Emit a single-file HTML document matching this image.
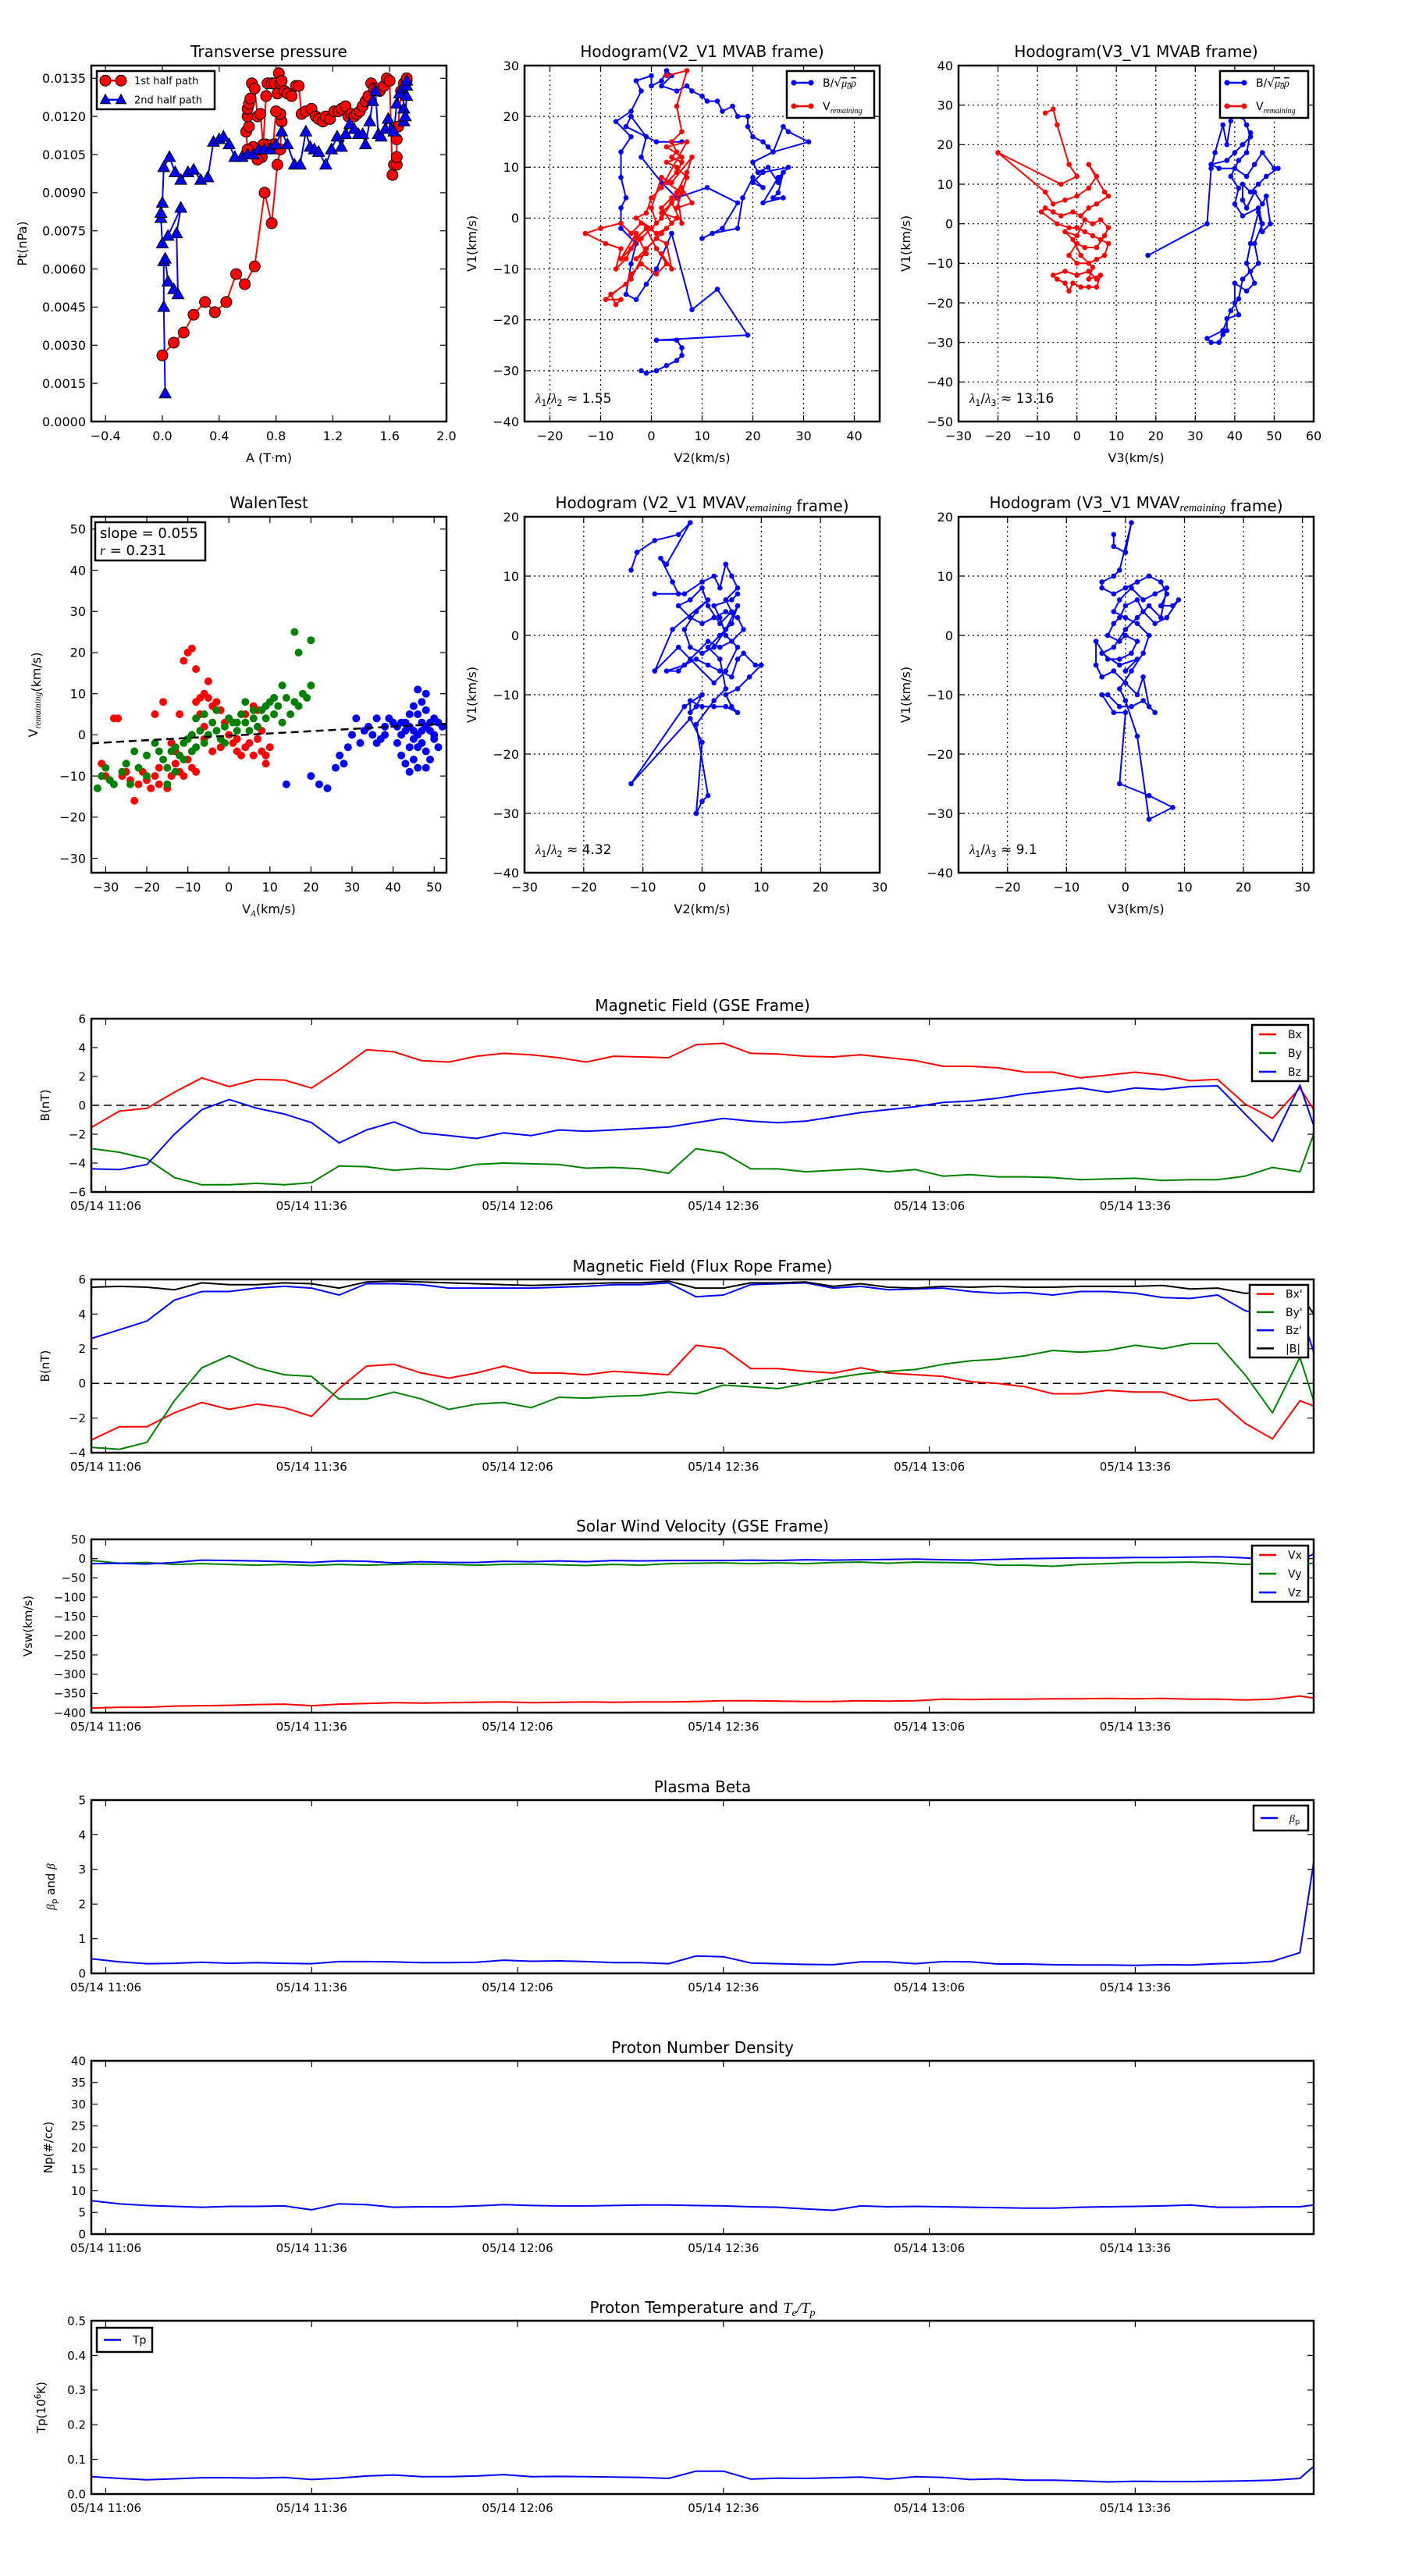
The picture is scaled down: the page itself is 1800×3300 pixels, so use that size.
<!DOCTYPE html>
<html><head><meta charset="utf-8"><title>Flux rope analysis</title>
<style>html,body{margin:0;padding:0;background:#fff}svg{display:block}text{font-family:"DejaVu Sans","Liberation Sans",sans-serif}</style>
</head><body>
<svg id="fig" xmlns="http://www.w3.org/2000/svg" width="1800" height="3300" viewBox="0 0 1800 3300"></svg>
<script>
// ---------- Transverse pressure ----------
const ptRedA=[0.0,0.08,0.15,0.22,0.3,0.37,0.45,0.52,0.58,0.65,0.72,0.77,0.81,0.83,0.84,0.83,0.80,0.78,0.73,0.70,0.67,0.64,0.60,0.59,0.61,0.60,0.60,0.61,0.62,0.63,0.65,0.67,0.69,0.71,0.73,0.74,0.77,0.79,0.81,0.82,0.83,0.84,0.86,0.88,0.91,0.94,0.96,0.98,1.01,1.05,1.08,1.10,1.13,1.15,1.18,1.21,1.24,1.26,1.29,1.31,1.33,1.35,1.37,1.39,1.41,1.43,1.45,1.47,1.49,1.51,1.53,1.56,1.58,1.60,1.62,1.63,1.65,1.65,1.65,1.66,1.68,1.70,1.72,1.72];
const ptRedP=[0.0026,0.0031,0.0035,0.0042,0.0047,0.0043,0.0047,0.0058,0.0054,0.0061,0.0090,0.0078,0.0101,0.0107,0.0118,0.0121,0.0122,0.0109,0.0109,0.0104,0.0103,0.0108,0.0107,0.0114,0.0116,0.0120,0.0123,0.0125,0.0127,0.0133,0.0131,0.0120,0.0121,0.0109,0.0128,0.0133,0.0133,0.0133,0.0129,0.0137,0.0133,0.0134,0.0130,0.0129,0.0128,0.0132,0.0132,0.0121,0.0122,0.0123,0.0120,0.0119,0.0118,0.0120,0.0119,0.0122,0.0122,0.0123,0.0124,0.0120,0.0121,0.0120,0.0121,0.0122,0.0124,0.0126,0.0128,0.0133,0.0131,0.0131,0.0130,0.0132,0.0135,0.0134,0.0097,0.0101,0.0101,0.0104,0.0111,0.0116,0.0130,0.0133,0.0134,0.0135];
const ptBlueA=[0.02,0.01,0.01,0.02,0.04,0.08,0.11,0.10,0.13,0.04,0.0,-0.01,-0.01,0.0,0.01,0.05,0.09,0.13,0.18,0.22,0.27,0.32,0.36,0.40,0.43,0.47,0.51,0.56,0.60,0.64,0.68,0.72,0.76,0.80,0.84,0.88,0.93,0.97,1.01,1.04,1.07,1.10,1.15,1.19,1.23,1.26,1.29,1.32,1.35,1.38,1.41,1.43,1.46,1.48,1.50,1.52,1.54,1.57,1.59,1.61,1.63,1.65,1.67,1.69,1.70,1.70,1.71,1.72,1.72,1.72];
const ptBlueP=[0.0011,0.0045,0.0063,0.0064,0.0055,0.0052,0.0050,0.0074,0.0084,0.0073,0.0070,0.0080,0.0082,0.0086,0.0100,0.0104,0.0098,0.0095,0.0098,0.0099,0.0095,0.0096,0.0110,0.0111,0.0112,0.0109,0.0104,0.0104,0.0105,0.0105,0.0107,0.0107,0.0107,0.0109,0.0114,0.0109,0.0101,0.0101,0.0114,0.0108,0.0107,0.0106,0.0101,0.0107,0.0112,0.0108,0.0113,0.0117,0.0115,0.0113,0.0113,0.0109,0.0118,0.0126,0.0130,0.0113,0.0112,0.0115,0.0119,0.0115,0.0114,0.0125,0.0129,0.0131,0.0123,0.0118,0.0120,0.0128,0.0132,0.0134];
const ptXTicks=[-0.4,0.0,0.4,0.8,1.2,1.6,2.0];
const ptXTickLabels=["−0.4","0.0","0.4","0.8","1.2","1.6","2.0"];
const ptYTicks=[0,0.0015,0.003,0.0045,0.006,0.0075,0.009,0.0105,0.012,0.0135];
const ptYTickLabels=["0.0000","0.0015","0.0030","0.0045","0.0060","0.0075","0.0090","0.0105","0.0120","0.0135"];

// ---------- Hodogram V2_V1 MVAB ----------
const h1Blue=[[-2,-30],[-1,-30.5],[1,-30],[3,-29],[5,-28],[6,-27],[6,-25.5],[5,-24],[1,-24],[19,-23],[13,-14],[8,-18],[4,-3],[1,-10],[-1,-13],[-3,-16],[-5,-15],[-4,-9],[-3,-5],[-6,-2],[-6,2],[-5,4],[-6,8],[-6,13],[-4,16],[-7,19],[-4,21],[-2,25],[-3,27],[0,28],[0,26],[2,27],[3,29],[4,28],[2,26],[5,25],[7,26],[8,25],[10,24],[11,23],[13,23],[14,21],[16,22],[17,20],[19,20],[19,18],[20,16],[22,15],[23,14],[24,13],[26,18],[27,17],[31,15],[24,13],[20,11],[21,9],[23,10],[25,7],[26,9],[25,5],[24,4],[26,4],[22,3],[25,8],[27,10],[22,9],[20,7],[22,6],[20,8],[18,4],[17,-2],[12,-3],[10,-4],[14,-2],[17,3],[11,6],[5,4],[2,7],[-2,12],[-1,16],[-4,20],[-5,18],[1,15],[4,15],[6,15]];
const h1Red=[[3,28],[7,29],[5,22],[6,17],[4,15],[5,13],[4,12],[6,11],[5,9],[3,7],[6,5],[4,3],[2,1],[5,0],[3,-2],[1,-3],[-2,-1],[-4,-3],[-6,-1],[-10,-2],[-13,-3],[-9,-5],[-6,-6],[-7,-10],[-5,-8],[-3,-4],[-1,-2],[1,-6],[3,-9],[1,-11],[-2,-9],[-4,-11],[-5,-13],[-8,-15],[-7,-17],[-6,-16],[-9,-16],[-4,-12],[-1,-6],[2,-3],[4,-1],[2,2],[4,4],[6,6],[8,3],[5,2],[7,8],[5,10],[3,11],[6,12],[3,14],[7,15],[2,6],[0,4],[-1,1],[-3,0],[0,-2],[2,0],[4,3],[6,-1],[5,5],[7,9],[8,12],[4,7],[2,8],[0,2],[1,-1],[-2,-4],[-4,-6],[-6,-8],[-3,-3],[-1,-7],[-3,-8],[1,-4],[3,-5],[4,-10],[2,-7]];
const h1XTicks=[-20,-10,0,10,20,30,40];
const h1YTicks=[-40,-30,-20,-10,0,10,20,30];

// ---------- Hodogram V3_V1 MVAB ----------
const h2Blue=[[18,-8],[33,0],[34,14],[35,18],[37,25],[38,20],[39,26],[40,28],[42,27],[43,25],[44,22],[42,20],[40,18],[38,16],[34,15],[36,14],[40,14],[43,12],[45,15],[47,18],[50,14],[51,14],[48,12],[46,10],[44,8],[42,10],[42,6],[43,4],[45,8],[47,5],[48,7],[49,0],[47,-2],[46,3],[44,-5],[43,-10],[45,-15],[43,-17],[40,-15],[40,-20],[41,-23],[38,-24],[38,-27],[37,-28],[36,-30],[34,-30],[33,-29],[37,-27],[39,-22],[41,-19],[42,-14],[44,-12],[46,-10],[45,-5],[47,0],[46,4],[42,2],[40,5],[41,9],[39,12],[41,16],[43,18],[44,23]];
const h2Red=[[-8,28],[-6,29],[-5,25],[-2,15],[0,12],[-4,10],[-20,18],[-8,8],[-6,5],[-3,6],[0,7],[3,9],[5,12],[3,15],[7,8],[8,7],[5,5],[3,4],[1,2],[-1,3],[-4,2],[-6,3],[-8,4],[-9,3],[-5,0],[-2,-1],[0,-1],[2,-2],[4,-3],[6,-4],[8,-5],[7,-8],[5,-9],[3,-10],[0,-10],[-2,-8],[0,-5],[2,-6],[5,-6],[7,-3],[8,-1],[6,1],[4,0],[2,1],[0,-3],[-3,-2],[-1,-4],[1,-8],[4,-11],[3,-14],[6,-13],[5,-16],[3,-16],[1,-16],[-1,-15],[-2,-17],[-3,-15],[-5,-14],[-6,-13],[-3,-12],[0,-13],[3,-12],[5,-14]];
const h2XTicks=[-30,-20,-10,0,10,20,30,40,50,60];
const h2YTicks=[-50,-40,-30,-20,-10,0,10,20,30,40];

// ---------- Walen test ----------
const wRed=[[-31,-7],[-30,-10],[-28,4],[-27,4],[-26,-10],[-24,-11],[-23,-16],[-22,-12],[-20,-11],[-19,-13],[-18,-10],[-17,-12],[-15,-13],[-14,-10],[-13,-7],[-12,-9],[-11,-10],[-10,-6],[-9,-8],[-8,-9],[-12,5],[-11,18],[-10,20],[-9,21],[-8,16],[-8,8],[-7,9],[-6,10],[-5,9],[-4,7],[-7,5],[-6,2],[-3,8],[-2,6],[-1,3],[0,0],[1,-2],[2,-4],[3,-5],[4,-3],[5,-2],[6,-5],[7,-1],[8,-4],[9,-5],[10,-3],[4,5],[6,7],[7,6],[-5,13],[-16,8],[-18,5],[-14,-2],[-6,-1],[-4,-4],[2,-1],[8,1],[-25,-9],[-21,-9],[-2,-3],[9,-7],[-17,-8],[-13,-4]];
const wGreen=[[-32,-13],[-31,-10],[-30,-8],[-29,-11],[-28,-12],[-26,-9],[-25,-7],[-22,-8],[-20,-5],[-17,-4],[-16,-6],[-15,-8],[-14,-4],[-13,-3],[-12,-5],[-11,-2],[-10,-1],[-9,0],[-8,-3],[-7,1],[-6,-2],[-5,0],[-4,3],[-3,1],[-2,-1],[-1,2],[0,4],[1,3],[2,1],[3,5],[4,3],[5,1],[6,4],[7,2],[8,6],[9,4],[10,8],[11,5],[12,7],[13,3],[14,9],[15,5],[16,8],[17,7],[18,10],[19,9],[20,12],[16,25],[17,20],[20,23],[13,12],[11,9],[9,7],[-3,6],[-6,5],[-9,-4],[-11,-6],[-13,-9],[-15,-12],[-18,-2],[-20,-10],[-24,-12],[-23,-4],[-1,-2],[4,8],[6,6],[2,3],[-8,4]];
const wBlue=[[14,-12],[20,-10],[22,-12],[24,-13],[26,-8],[27,-5],[28,-7],[29,-3],[30,0],[31,4],[32,-2],[33,1],[34,2],[35,0],[36,4],[37,-1],[38,2],[39,4],[40,3],[41,-2],[42,0],[43,3],[44,-3],[45,1],[46,5],[47,-2],[48,6],[49,1],[50,-1],[51,3],[52,2],[42,-5],[43,-7],[44,-9],[45,-6],[46,-3],[47,8],[48,10],[46,11],[45,7],[47,3],[48,-4],[49,-6],[50,4],[51,-3],[44,5],[43,1],[45,-1],[46,0],[47,1],[48,2],[49,3],[50,0],[46,-8],[48,-8],[44,2],[42,3],[41,2],[38,0],[36,-2]];
const wSlope=0.055;
const wIntercept=-0.2;
const wXTicks=[-30,-20,-10,0,10,20,30,40,50];
const wYTicks=[-30,-20,-10,0,10,20,30,40,50];

// ---------- Hodogram MVAV ----------
const h3Blue=[[-12,11],[-11,14],[-8,16],[-4,17],[-2,19],[-6,12],[-7,13],[-5,9],[-4,7],[-8,7],[-3,7],[0,9],[2,10],[3,8],[4,12],[5,10],[6,8],[4,6],[5,4],[3,2],[1,5],[0,8],[-2,6],[-4,5],[-2,3],[0,2],[2,3],[4,4],[6,3],[7,1],[5,-1],[3,-2],[1,-1],[-2,-4],[-4,-6],[-6,-6],[-3,-5],[-1,-4],[1,-5],[3,-6],[5,-7],[6,-4],[7,-3],[9,-5],[10,-5],[8,-7],[6,-9],[4,-10],[5,-12],[6,-13],[4,-12],[2,-12],[0,-12],[-2,-11],[-2,-13],[-1,-12],[0,-10],[-3,-12],[-12,-25],[-2,-14],[0,-18],[-1,-30],[0,-28],[1,-27],[-1,-15],[2,-11],[4,-9],[3,-4],[1,-2],[3,0],[5,2],[6,5],[4,1],[2,-2],[0,-3],[-2,-2],[-3,1],[-1,4],[1,6],[-5,1],[-8,-6],[-4,-2],[2,-8],[4,-6],[6,-2],[4,0],[3,3],[2,5],[5,6],[6,7]];
const h3XTicks=[-30,-20,-10,0,10,20,30];
const h3YTicks=[-40,-30,-20,-10,0,10,20];
const h4Blue=[[-2,17],[-2,15],[0,14],[1,19],[-1,11],[-2,10],[-4,9],[-4,8],[-2,7],[0,8],[2,9],[4,10],[6,9],[7,7],[6,5],[8,5],[9,6],[7,3],[5,2],[3,4],[2,6],[0,5],[-1,3],[-2,2],[-3,0],[-1,-1],[0,0],[2,-1],[1,-3],[-1,-4],[-3,-4],[-5,-1],[-5,-5],[-4,-7],[-2,-6],[0,-8],[2,-10],[3,-7],[4,-12],[5,-13],[3,-11],[1,-12],[-1,-12],[-3,-10],[-4,-10],[-2,-13],[0,-13],[-1,-25],[4,-27],[8,-29],[4,-31],[2,-17],[0,-11],[-1,-9],[1,-6],[3,-3],[4,0],[2,2],[0,3],[-2,4],[-1,6],[1,8],[3,6],[5,7],[7,8],[6,3],[4,5],[2,3],[0,1],[-2,-2],[-4,-3],[-1,-5],[2,-4],[0,-6]];
const h4XTicks=[-20,-10,0,10,20,30];
const h4YTicks=[-40,-30,-20,-10,0,10,20];

// ---------- Time series (minutes after 11:06) ----------
const tMin=[-2,2,6,10,14,18,22,26,30,34,38,42,46,50,54,58,62,66,70,74,78,82,86,90,94,98,102,106,110,114,118,122,126,130,134,138,142,146,150,154,158,162,166,170,174,176];
const timeTicks=[0,30,60,90,120,150];
const timeTickLabels=["05/14 11:06","05/14 11:36","05/14 12:06","05/14 12:36","05/14 13:06","05/14 13:36"];
const bx=[-1.5,-0.4,-0.2,0.9,1.9,1.3,1.8,1.75,1.2,2.45,3.85,3.7,3.1,3.0,3.4,3.6,3.5,3.3,3.0,3.4,3.35,3.3,4.2,4.3,3.6,3.55,3.4,3.35,3.5,3.3,3.1,2.7,2.7,2.6,2.3,2.3,1.9,2.1,2.3,2.1,1.7,1.8,0.1,-0.9,1.2,-0.3];
const by=[-3.0,-3.25,-3.7,-5.0,-5.5,-5.5,-5.4,-5.5,-5.35,-4.2,-4.25,-4.5,-4.35,-4.45,-4.1,-4.0,-4.05,-4.1,-4.35,-4.3,-4.4,-4.7,-3.0,-3.3,-4.4,-4.4,-4.6,-4.5,-4.4,-4.6,-4.45,-4.9,-4.8,-4.95,-4.95,-5.0,-5.15,-5.1,-5.05,-5.2,-5.15,-5.15,-4.9,-4.3,-4.6,-2.0];
const bz=[-4.4,-4.45,-4.1,-2.0,-0.3,0.4,-0.2,-0.6,-1.2,-2.6,-1.7,-1.15,-1.9,-2.1,-2.3,-1.9,-2.1,-1.7,-1.8,-1.7,-1.6,-1.5,-1.2,-0.9,-1.1,-1.2,-1.1,-0.8,-0.5,-0.3,-0.1,0.2,0.3,0.5,0.8,1.0,1.2,0.9,1.2,1.1,1.3,1.35,-0.6,-2.5,1.4,-1.4];
const bxp=[-3.25,-2.5,-2.5,-1.7,-1.1,-1.5,-1.2,-1.4,-1.9,-0.3,1.0,1.1,0.6,0.3,0.6,1.0,0.6,0.6,0.5,0.7,0.6,0.5,2.2,2.0,0.85,0.85,0.7,0.6,0.9,0.6,0.5,0.4,0.1,0.0,-0.2,-0.6,-0.6,-0.4,-0.5,-0.5,-1.0,-0.9,-2.3,-3.2,-1.0,-1.3];
const byp=[-3.7,-3.8,-3.4,-1.0,0.9,1.6,0.9,0.5,0.4,-0.9,-0.9,-0.5,-0.9,-1.5,-1.2,-1.1,-1.4,-0.8,-0.85,-0.75,-0.7,-0.5,-0.6,-0.1,-0.2,-0.3,0.0,0.3,0.55,0.7,0.8,1.1,1.3,1.4,1.6,1.9,1.8,1.9,2.2,2.0,2.3,2.3,0.5,-1.7,1.5,-1.0];
const bzp=[2.6,3.1,3.6,4.8,5.3,5.3,5.5,5.6,5.5,5.1,5.75,5.75,5.7,5.5,5.5,5.5,5.5,5.55,5.6,5.7,5.7,5.8,5.0,5.1,5.7,5.75,5.8,5.5,5.6,5.4,5.45,5.5,5.3,5.2,5.25,5.1,5.3,5.3,5.2,4.95,4.9,5.1,4.2,3.8,4.3,1.8];
const bmag=[5.55,5.6,5.55,5.4,5.8,5.7,5.7,5.8,5.75,5.5,5.85,5.9,5.85,5.8,5.75,5.7,5.65,5.7,5.75,5.8,5.8,5.9,5.5,5.5,5.8,5.8,5.85,5.6,5.75,5.55,5.5,5.6,5.55,5.6,5.55,5.55,5.6,5.6,5.6,5.65,5.45,5.5,5.2,5.25,5.2,4.0];
const vx=[-388,-386,-386,-383,-382,-381,-379,-378,-382,-378,-376,-374,-375,-374,-373,-372,-374,-373,-372,-373,-372,-372,-371,-369,-369,-370,-371,-371,-369,-370,-369,-365,-366,-365,-365,-364,-364,-363,-364,-363,-365,-365,-367,-365,-357,-362];
const vy=[-5,-12,-10,-15,-13,-15,-17,-15,-18,-15,-17,-15,-14,-15,-17,-15,-14,-16,-18,-15,-17,-13,-12,-11,-13,-11,-13,-10,-9,-12,-9,-10,-11,-17,-17,-20,-15,-13,-10,-10,-9,-11,-15,-13,-14,-12];
const vz=[-13,-12,-14,-10,-4,-5,-6,-8,-10,-6,-7,-11,-8,-10,-10,-7,-8,-6,-8,-5,-6,-5,-5,-5,-4,-5,-3,-4,-3,-2,-1,-3,-4,-2,0,1,2,2,3,3,4,5,2,-3,-5,12];
const betaP=[0.42,0.33,0.28,0.29,0.32,0.29,0.31,0.29,0.28,0.34,0.34,0.33,0.31,0.31,0.32,0.38,0.35,0.36,0.34,0.31,0.31,0.28,0.5,0.48,0.3,0.28,0.26,0.25,0.33,0.33,0.28,0.34,0.33,0.27,0.27,0.25,0.24,0.24,0.23,0.25,0.24,0.28,0.3,0.35,0.6,3.2];
const np=[7.7,7.0,6.6,6.4,6.2,6.4,6.4,6.5,5.6,7.0,6.8,6.2,6.3,6.3,6.5,6.8,6.6,6.5,6.5,6.6,6.7,6.7,6.6,6.5,6.3,6.2,5.8,5.5,6.5,6.3,6.4,6.3,6.2,6.1,6.0,6.0,6.2,6.3,6.4,6.5,6.7,6.2,6.2,6.3,6.3,6.7];
const tp=[0.05,0.045,0.041,0.044,0.047,0.047,0.046,0.048,0.042,0.046,0.052,0.055,0.05,0.05,0.052,0.056,0.05,0.051,0.05,0.049,0.048,0.045,0.066,0.066,0.043,0.046,0.045,0.047,0.049,0.043,0.05,0.048,0.042,0.044,0.04,0.04,0.038,0.035,0.037,0.036,0.036,0.037,0.038,0.04,0.045,0.08];

const NS='http://www.w3.org/2000/svg';
const fig=document.getElementById('fig');
function mk(tag,attrs,parent){const e=document.createElementNS(NS,tag);for(const k in attrs)e.setAttribute(k,attrs[k]);(parent||fig).appendChild(e);return e;}
function txt(s,attrs,name,parent){const e=mk('text',attrs,parent);e.textContent=s;


return e;}

function makeAxes(o){
  const g=mk('g',{});
  
  
  const sx=v=>o.x+(v-o.xmin)/(o.xmax-o.xmin)*o.w;
  const sy=v=>o.y+o.h-(v-o.ymin)/(o.ymax-o.ymin)*o.h;
  const fs=o.tickFont||16;
  o.xticks.forEach((v,i)=>{const X=sx(v);
    if(o.grid){const gl=mk('line',{x1:X,x2:X,y1:o.y,y2:o.y+o.h,stroke:'#000','stroke-width':1.2,'stroke-dasharray':'2,4'},g);
      
      }
    mk('line',{x1:X,x2:X,y1:o.y+o.h,y2:o.y+o.h-8,stroke:'#000','stroke-width':1.2},g);
    mk('line',{x1:X,x2:X,y1:o.y,y2:o.y+8,stroke:'#000','stroke-width':1.2},g);
    txt(o.xlabels?o.xlabels[i]:String(v).replace('-','−'),{x:X,y:o.y+o.h+(o.xlabOff||24),'text-anchor':'middle','font-size':fs},'x-tick-label',g);
  });
  o.yticks.forEach((v,i)=>{const Y=sy(v);
    if(o.grid){const gl=mk('line',{x1:o.x,x2:o.x+o.w,y1:Y,y2:Y,stroke:'#000','stroke-width':1.2,'stroke-dasharray':'2,4'},g);
      
      }
    mk('line',{x1:o.x,x2:o.x+8,y1:Y,y2:Y,stroke:'#000','stroke-width':1.2},g);
    mk('line',{x1:o.x+o.w,x2:o.x+o.w-8,y1:Y,y2:Y,stroke:'#000','stroke-width':1.2},g);
    txt(o.ylabels?o.ylabels[i]:String(v).replace('-','−'),{x:o.x-7,y:Y+fs*0.36,'text-anchor':'end','font-size':fs},'y-tick-label',g);
  });
  if(o.zero){const z=mk('line',{x1:o.x,x2:o.x+o.w,y1:sy(0),y2:sy(0),stroke:'#000','stroke-width':1.5,'stroke-dasharray':'10,6'},g);
    
    }
  const clipId='c'+Math.round(o.x)+'_'+Math.round(o.y);
  const cp=mk('clipPath',{id:clipId},g);mk('rect',{x:o.x,y:o.y,width:o.w,height:o.h},cp);
  const plot=mk('g',{'clip-path':'url(#'+clipId+')'},g);
  
  
  const fr=mk('rect',{x:o.x,y:o.y,width:o.w,height:o.h,fill:'none',stroke:'#000','stroke-width':2.5},g);
  
  
  if(o.title){const t=txt('',{x:o.x+o.w/2,y:o.y-(o.titleOff||11),'text-anchor':'middle','font-size':o.titleFont||20},'chart-title',g);
    t.innerHTML=o.title;}
  if(o.xtitle){const t=txt('',{x:o.x+o.w/2,y:o.y+o.h+(o.xtOff||52),'text-anchor':'middle','font-size':16},'x-axis-title',g);t.innerHTML=o.xtitle;}
  if(o.ytitle){const t=txt('',{x:o.ytx,y:o.y+o.h/2,'text-anchor':'middle','font-size':o.ytFont||16,transform:'rotate(-90 '+o.ytx+' '+(o.y+o.h/2)+')'},'y-axis-title',g);t.innerHTML=o.ytitle;}
  return {sx,sy,plot,g,o};
}
function line(ax,xs,ys,color,name,w){
  const d=xs.map((v,i)=>(i?'L':'M')+ax.sx(v).toFixed(1)+','+ax.sy(ys[i]).toFixed(1)).join('');
  const p=mk('path',{d:d,fill:'none',stroke:color,'stroke-width':w||2,'stroke-linejoin':'round'},ax.plot);
  
  
  return p;
}
function dots(ax,pts,color,r,name,stroke){
  const g=mk('g',{},ax.plot);
  
  
  pts.forEach(p=>{const c=mk('circle',{cx:ax.sx(p[0]).toFixed(1),cy:ax.sy(p[1]).toFixed(1),r:r,fill:color,stroke:stroke||'none','stroke-width':1},g);
    
    });
}
function tris(ax,xs,ys,color,r,name){
  const g=mk('g',{},ax.plot);
  
  
  xs.forEach((v,i)=>{const X=ax.sx(v),Y=ax.sy(ys[i]);
    const t=mk('polygon',{points:`${X},${Y-r} ${X-r*0.95},${Y+r*0.7} ${X+r*0.95},${Y+r*0.7}`,fill:color,stroke:'#000','stroke-width':1},g);
    
    });
}
function legend(x,y,w,h,entries,fs,name){
  const g=mk('g',{});
  
  
  mk('rect',{x:x,y:y,width:w,height:h,fill:'#fff',stroke:'#000','stroke-width':2.5},g);
  const step=h/entries.length;
  entries.forEach((e,i)=>{const cy=y+step*(i+0.5);
    const eg=mk('g',{},g);
    
    
    mk('line',{x1:x+(e.lx1||9),x2:x+(e.lx2||31),y1:cy,y2:cy,stroke:e.c,'stroke-width':2.5},eg);
    if(e.m==='o'){mk('circle',{cx:x+(e.lx1||9),cy:cy,r:e.r||3.5,fill:e.c,stroke:e.ms||'none'},eg);mk('circle',{cx:x+(e.lx2||31),cy:cy,r:e.r||3.5,fill:e.c,stroke:e.ms||'none'},eg);}
    if(e.m==='^'){[x+(e.lx1||9),x+(e.lx2||31)].forEach(X=>mk('polygon',{points:`${X},${cy-7} ${X-6.5},${cy+5} ${X+6.5},${cy+5}`,fill:e.c,stroke:'#000'},eg));}
    const t=txt('',{x:x+(e.tx||46),y:cy+fs*0.36,'font-size':fs},'legend-label',eg);t.innerHTML=e.t;});
}
const SUBREM='<tspan font-family="Liberation Serif, serif" font-style="italic" font-size="0.72em" dy="4">remaining</tspan><tspan dy="-4"></tspan>';

// ===== Row 1 =====
const colX=[117,672,1228],W=455,R1=84,R2=662,H=456;
const axP=makeAxes({name:'transverse-pressure-chart',x:colX[0],y:R1,w:W,h:H,xmin:-0.5,xmax:2.0,ymin:0,ymax:0.014,xticks:ptXTicks,xlabels:ptXTickLabels,yticks:ptYTicks,ylabels:ptYTickLabels,title:'Transverse pressure',xtitle:'A (T·m)',ytitle:'Pt(nPa)',ytx:34});
line(axP,ptRedA,ptRedP,'#f00','first-half-line',2);
line(axP,ptBlueA,ptBlueP,'#00f','second-half-line',2);
dots(axP,ptRedA.map((v,i)=>[v,ptRedP[i]]),'#f00',7,'first-half-markers','#000');
tris(axP,ptBlueA,ptBlueP,'#00f',8,'second-half-markers');
legend(124,91,151,49,[{c:'#f00',m:'o',r:7,ms:'#000',t:'1st half path',lx1:11,lx2:31,tx:48},{c:'#00f',m:'^',t:'2nd half path',lx1:11,lx2:31,tx:48}],13,'pressure-legend');

function hodo(name,cx,cy,xmin,xmax,ymin,ymax,xt,yt,title,xtitle,lam){
  const ax=makeAxes({name:name,x:cx,y:cy,w:W,h:H,xmin,xmax,ymin,ymax,xticks:xt,yticks:yt,grid:true,title:title,xtitle:xtitle,ytitle:'V1(km/s)',ytx:cx-62});
  const t=txt('',{x:cx+14,y:cy+H-24,'font-size':17},'eigenvalue-ratio-label',ax.g);t.innerHTML=lam;
  return ax;
}
const LAM=(a,b,v)=>`<tspan font-family="Liberation Serif, serif" font-style="italic">λ</tspan><tspan font-size="0.65em" dy="4">${a}</tspan><tspan dy="-4">/</tspan><tspan font-family="Liberation Serif, serif" font-style="italic">λ</tspan><tspan font-size="0.65em" dy="4">${b}</tspan><tspan dy="-4"> ≈ ${v}</tspan>`;
const axH1=hodo('hodogram-v2-v1-mvab',colX[1],R1,-25,45,-40,30,h1XTicks,h1YTicks,'Hodogram(V2_V1 MVAB frame)','V2(km/s)',LAM(1,2,'1.55'));
const axH2=hodo('hodogram-v3-v1-mvab',colX[2],R1,-30,60,-50,40,h2XTicks,h2YTicks,'Hodogram(V3_V1 MVAB frame)','V3(km/s)',LAM(1,3,'13.16'));
[[axH1,h1Blue,h1Red],[axH2,h2Blue,h2Red]].forEach(([ax,b,r])=>{
  line(ax,b.map(p=>p[0]),b.map(p=>p[1]),'#00f','b-hodogram-line',2); dots(ax,b,'#00f',3.3,'b-hodogram-points');
  line(ax,r.map(p=>p[0]),r.map(p=>p[1]),'#f00','v-hodogram-line',2); dots(ax,r,'#f00',3.3,'v-hodogram-points');
});
const LEGB='B/<tspan font-size="1.1em">√</tspan><tspan text-decoration="overline" font-family="Liberation Serif, serif" font-style="italic">μ<tspan font-size="0.7em" dy="3">0</tspan><tspan dy="-3">ρ</tspan></tspan>';
legend(1008,91,112,60,[{c:'#00f',m:'o',t:LEGB,tx:46},{c:'#f00',m:'o',t:'V'+SUBREM,tx:46}],14,'hodogram-legend');
legend(1563,91,113,60,[{c:'#00f',m:'o',t:LEGB,tx:46},{c:'#f00',m:'o',t:'V'+SUBREM,tx:46}],14,'hodogram-legend');

// ===== Row 2 =====
const axW=makeAxes({name:'walen-test-chart',x:colX[0],y:R2,w:W,h:H,xmin:-33.5,xmax:53,ymin:-33.5,ymax:53,xticks:wXTicks,yticks:wYTicks,title:'WalenTest',xtitle:'V<tspan font-family="Liberation Serif, serif" font-style="italic" font-size="0.7em" dy="4">A</tspan><tspan dy="-4">(km/s)</tspan>',ytitle:'V'+SUBREM+'(km/s)',ytx:48});
dots(axW,wRed,'#f00',5,'walen-red-points');
dots(axW,wGreen,'#008000',5,'walen-green-points');
dots(axW,wBlue,'#00f',5,'walen-blue-points');
{const xs=[-33.5,53];line(axW,xs,xs.map(v=>wSlope*v+wIntercept),'#000','walen-fit-line',2.5).setAttribute('stroke-dasharray','10,6');}
{const g=mk('g',{});
 mk('rect',{x:122,y:669,width:141,height:49,fill:'#fff',stroke:'#000','stroke-width':2.5},g);
 txt('slope = 0.055',{x:128,y:689,'font-size':18},'slope-label',g);
 const t=txt('',{x:128,y:711,'font-size':18},'correlation-label',g);t.innerHTML='<tspan font-family="Liberation Serif, serif" font-style="italic">r</tspan> = 0.231';}
const axH3=hodo('hodogram-v2-v1-mvav',colX[1],R2,-30,30,-40,20,h3XTicks,h3YTicks,'Hodogram (V2_V1 MVAV'+SUBREM+' frame)','V2(km/s)',LAM(1,2,'4.32'));
const axH4=hodo('hodogram-v3-v1-mvav',colX[2],R2,-28.3,31.9,-40,20,h4XTicks,h4YTicks,'Hodogram (V3_V1 MVAV'+SUBREM+' frame)','V3(km/s)',LAM(1,3,'9.1'));
[[axH3,h3Blue],[axH4,h4Blue]].forEach(([ax,b])=>{line(ax,b.map(p=>p[0]),b.map(p=>p[1]),'#00f','b-hodogram-line',2);dots(ax,b,'#00f',3.3,'b-hodogram-points');});

// ===== Time series =====
const TX=117,TW=1566,TH=222,tops=[1305,1639,1972,2306,2640,2973];
function tpanel(i,name,ymin,ymax,yt,yl,title,ytitle,ytx,zero){
  return makeAxes({name,x:TX,y:tops[i],w:TW,h:TH,xmin:-2.1,xmax:176,ymin,ymax,xticks:timeTicks,xlabels:timeTickLabels,yticks:yt,ylabels:yl,tickFont:15,xlabOff:23,title,titleOff:10,ytitle,ytx,ytFont:15,zero});
}
const a1=tpanel(0,'magnetic-field-gse-chart',-6,6,[-6,-4,-2,0,2,4,6],null,'Magnetic Field (GSE Frame)','B(nT)',63,true);
line(a1,tMin,bx,'#f00','bx-line');line(a1,tMin,by,'#008000','by-line');line(a1,tMin,bz,'#00f','bz-line');
legend(1604,1313,72,72,[{c:'#f00',t:'Bx'},{c:'#008000',t:'By'},{c:'#00f',t:'Bz'}],14,'gse-field-legend');
const a2=tpanel(1,'magnetic-field-flux-rope-chart',-4,6,[-4,-2,0,2,4,6],null,'Magnetic Field (Flux Rope Frame)','B(nT)',63,true);
line(a2,tMin,bxp,'#f00','bx-prime-line');line(a2,tMin,byp,'#008000','by-prime-line');line(a2,tMin,bzp,'#00f','bz-prime-line');line(a2,tMin,bmag,'#000','b-magnitude-line');
legend(1601,1646,75,93,[{c:'#f00',t:"Bx'"},{c:'#008000',t:"By'"},{c:'#00f',t:"Bz'"},{c:'#000',t:'|B|'}],14,'flux-rope-legend');
const a3=tpanel(2,'solar-wind-velocity-chart',-400,50,[-400,-350,-300,-250,-200,-150,-100,-50,0,50],null,'Solar Wind Velocity (GSE Frame)','Vsw(km/s)',41,false);
line(a3,tMin,vx,'#f00','vx-line');line(a3,tMin,vy,'#008000','vy-line');line(a3,tMin,vz,'#00f','vz-line');
legend(1604,1980,72,72,[{c:'#f00',t:'Vx'},{c:'#008000',t:'Vy'},{c:'#00f',t:'Vz'}],14,'velocity-legend');
const BETA='<tspan font-family="Liberation Serif, serif" font-style="italic">β</tspan>';
const a4=tpanel(3,'plasma-beta-chart',0,5,[0,1,2,3,4,5],null,'Plasma Beta',BETA+'<tspan font-size="0.7em" dy="3">p</tspan><tspan dy="-3"> and </tspan>'+BETA,70,false);
line(a4,tMin,betaP,'#00f','beta-p-line');
legend(1606,2313,70,32,[{c:'#00f',t:BETA+'<tspan font-size="0.7em" dy="3">p</tspan>'}],14,'beta-legend');
const a5=tpanel(4,'proton-density-chart',0,40,[0,5,10,15,20,25,30,35,40],null,'Proton Number Density','Np(#/cc)',67,false);
line(a5,tMin,np,'#00f','np-line');
const a6=tpanel(5,'proton-temperature-chart',0,0.5,[0,0.1,0.2,0.3,0.4,0.5],['0.0','0.1','0.2','0.3','0.4','0.5'],'Proton Temperature and <tspan font-family="Liberation Serif, serif" font-style="italic">T<tspan font-size="0.7em" dy="4">e</tspan><tspan dy="-4">/T</tspan><tspan font-size="0.7em" dy="4">p</tspan></tspan><tspan dy="-4"></tspan>','Tp(10<tspan font-size="0.7em" dy="-6">6</tspan><tspan dy="6">K)</tspan>',58,false);
line(a6,tMin,tp,'#00f','tp-line');
legend(124,2982,71,31,[{c:'#00f',t:'Tp'}],14,'tp-legend');
</script>
</body></html>
